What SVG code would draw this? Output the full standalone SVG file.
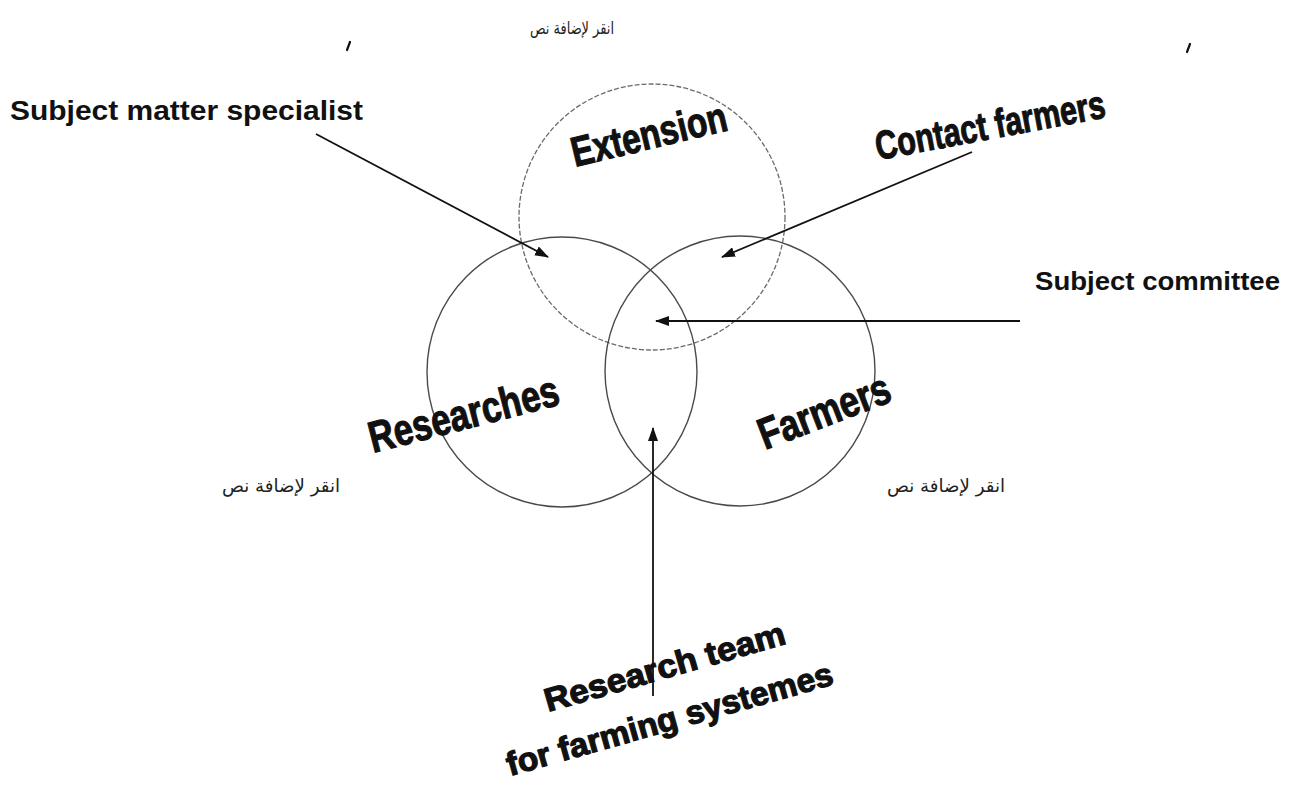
<svg xmlns="http://www.w3.org/2000/svg" width="1295" height="788" viewBox="0 0 1295 788">
  <style>
    .bg { fill: #ffffff; }
    .ring { fill: none; stroke: #4a4a4a; stroke-width: 1.4; }
    .ring-faint { fill: none; stroke: #6a6a6a; stroke-width: 1.3; stroke-dasharray: 5 2; }
    .title { font-family: "Liberation Sans Narrow", "Liberation Sans", sans-serif; font-weight: bold; fill: #111; stroke: #111; stroke-width: 1.1; }
    .label { font-family: "Liberation Sans", "DejaVu Sans", sans-serif; font-weight: bold; fill: #111; }
    .heavy { stroke: #111; stroke-width: 1.2; }
    .ar { font-family: "DejaVu Sans", "Noto Sans", sans-serif; fill: #222; direction: rtl; }
    .arrow { stroke: #111; stroke-width: 1.8; fill: none; marker-end: url(#head); }
    .tick { stroke: #111; stroke-width: 2.2; stroke-linecap: round; }
  </style>
  <defs>
    <marker id="head" viewBox="0 0 14 10" refX="13" refY="5" markerWidth="14" markerHeight="10" markerUnits="userSpaceOnUse" orient="auto">
      <path d="M0,0 L14,5 L0,10 z" fill="#111"/>
    </marker>
  </defs>

  <rect class="bg" x="0" y="0" width="1295" height="788"/>

  <!-- placeholder captions -->
  <text class="ar" x="572" y="34" text-anchor="middle" font-size="17" textLength="84" lengthAdjust="spacingAndGlyphs">انقر لإضافة نص</text>
  <text class="ar" x="281" y="492" text-anchor="middle" font-size="18" textLength="118" lengthAdjust="spacingAndGlyphs">انقر لإضافة نص</text>
  <text class="ar" x="946" y="492" text-anchor="middle" font-size="18" textLength="118" lengthAdjust="spacingAndGlyphs">انقر لإضافة نص</text>

  <!-- stray marks -->
  <line class="tick" x1="350" y1="42" x2="347" y2="50"/>
  <line class="tick" x1="1190" y1="44" x2="1187" y2="52"/>

  <!-- three overlapping circles -->
  <g id="extension">
    <circle class="ring-faint" cx="652" cy="217" r="133"/>
    <text class="title" font-size="42" textLength="159" lengthAdjust="spacingAndGlyphs" transform="translate(575,167) rotate(-13.5)">Extension</text>
  </g>
  <g id="researches">
    <circle class="ring" cx="562" cy="372" r="135"/>
    <text class="title" font-size="44" textLength="195" lengthAdjust="spacingAndGlyphs" transform="translate(373,453) rotate(-14.5)">Researches</text>
  </g>
  <g id="farmers">
    <circle class="ring" cx="740" cy="371" r="135"/>
    <text class="title" font-size="44" textLength="138" lengthAdjust="spacingAndGlyphs" transform="translate(765,450) rotate(-21)">Farmers</text>
  </g>

  <!-- outside labels -->
  <g id="subject-matter-specialist">
    <text class="label" x="10" y="120" font-size="28" textLength="353" lengthAdjust="spacingAndGlyphs">Subject matter specialist</text>
  </g>
  <g id="contact-farmers">
    <text class="title" font-size="40" textLength="233" lengthAdjust="spacingAndGlyphs" transform="translate(878,160) rotate(-10.6)">Contact farmers</text>
  </g>
  <g id="subject-committee">
    <text class="label" x="1035" y="290" font-size="25" textLength="245" lengthAdjust="spacingAndGlyphs">Subject committee</text>
  </g>
  <g id="research-team">
    <text class="label heavy" font-size="33" textLength="249" lengthAdjust="spacingAndGlyphs" transform="translate(548,712) rotate(-16)">Research team</text>
    <text class="label heavy" font-size="33" textLength="338" lengthAdjust="spacingAndGlyphs" transform="translate(510,776) rotate(-15.8)">for farming systemes</text>
  </g>

  <!-- connectors -->
  <g id="connectors">
    <line class="arrow" x1="316" y1="134" x2="548" y2="257"/>
    <line class="arrow" x1="972" y1="152" x2="722" y2="257"/>
    <line class="arrow" x1="1020" y1="321" x2="656" y2="321"/>
    <line class="arrow" x1="653" y1="696" x2="653" y2="428"/>
  </g>
</svg>
